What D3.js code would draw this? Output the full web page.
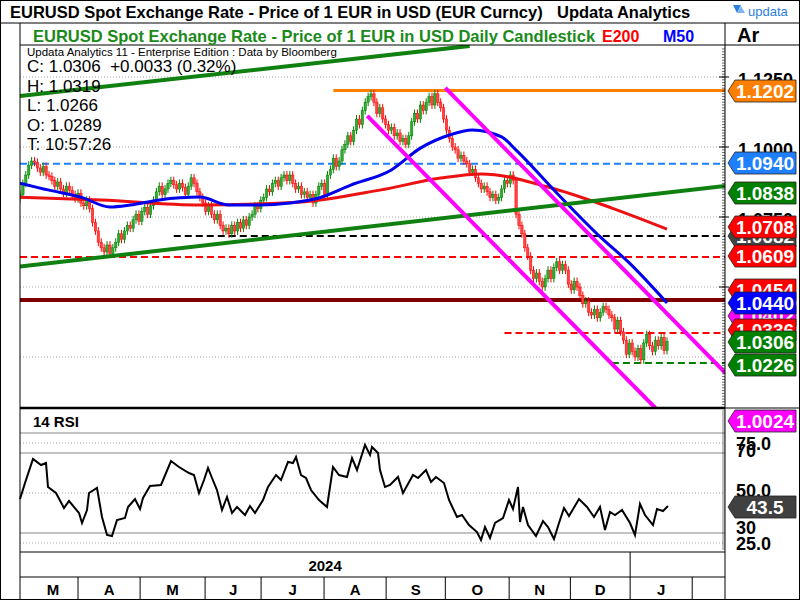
<!DOCTYPE html>
<html><head><meta charset="utf-8">
<script src="https://cdn.jsdelivr.net/npm/d3@7"></script>
<style>body{margin:0;background:#fff}svg{display:block;font-family:Arial,"Liberation Sans",sans-serif}</style>
</head><body><svg id="c" width="800" height="600"></svg>
<script>
// ---------- DATA ----------
const closes = [
1.0830,1.0870,1.0900,1.0935,1.0950,1.0945,1.0925,1.0910,1.0930,1.0900,
1.0895,1.0880,1.0860,1.0875,1.0850,1.0835,1.0860,1.0846,1.0830,1.0815,
1.0835,1.0800,1.0790,1.0810,1.0780,1.0730,1.0700,1.0660,1.0640,1.0625,
1.0650,1.0620,1.0640,1.0660,1.0690,1.0670,1.0700,1.0720,1.0710,1.0740,
1.0760,1.0735,1.0770,1.0785,1.0760,1.0790,1.0810,1.0840,1.0860,1.0830,
1.0850,1.0870,1.0880,1.0865,1.0850,1.0870,1.0855,1.0830,1.0860,1.0890,
1.0870,1.0840,1.0820,1.0800,1.0770,1.0790,1.0760,1.0740,1.0760,1.0720,
1.0700,1.0710,1.0690,1.0720,1.0700,1.0730,1.0710,1.0740,1.0720,1.0750,
1.0760,1.0790,1.0780,1.0810,1.0820,1.0850,1.0840,1.0870,1.0880,1.0860,
1.0890,1.0900,1.0880,1.0900,1.0870,1.0850,1.0860,1.0830,1.0840,1.0820,
1.0830,1.0800,1.0830,1.0860,1.0870,1.0830,1.0900,1.0920,1.0960,1.0930,
1.0950,1.0990,1.1010,1.1040,1.1020,1.1060,1.1100,1.1080,1.1130,1.1160,
1.1180,1.1190,1.1160,1.1120,1.1140,1.1100,1.1080,1.1060,1.1070,1.1040,
1.1050,1.1020,1.1030,1.1010,1.1040,1.1090,1.1120,1.1100,1.1150,1.1130,
1.1160,1.1180,1.1150,1.1190,1.1160,1.1140,1.1100,1.1060,1.1030,1.1000,
1.0990,1.0960,1.0970,1.0950,1.0940,1.0910,1.0920,1.0890,1.0870,1.0850,
1.0860,1.0840,1.0820,1.0830,1.0810,1.0820,1.0850,1.0880,1.0870,1.0900,
1.0880,1.0760,1.0720,1.0690,1.0640,1.0610,1.0560,1.0530,1.0550,1.0520,
1.0500,1.0530,1.0560,1.0530,1.0570,1.0590,1.0560,1.0580,1.0560,1.0510,
1.0490,1.0520,1.0500,1.0470,1.0440,1.0450,1.0410,1.0400,1.0420,1.0390,
1.0410,1.0430,1.0420,1.0400,1.0390,1.0350,1.0380,1.0340,1.0310,1.0260,
1.0300,1.0270,1.0250,1.0280,1.0240,1.0300,1.0330,1.0290,1.0270,1.0310,
1.0290,1.0320,1.0273,1.0306];
const firstOpen = 1.0815;
const ma50Idx = [0,10,21,31,38,48,62,72,83,93,103,114,128,138,148,156,166,171,185,200,210,223];
const ma50Val = [1.0871,1.0846,1.0821,1.0786,1.0793,1.0811,1.0821,1.0793,1.0793,1.0800,1.0818,1.0864,1.0918,1.0996,1.1043,1.1061,1.1036,1.0989,1.0836,1.0679,1.0586,1.0443];
const e200Idx = [0,28,62,97,124,145,159,182,204,223];
const e200Val = [1.0821,1.0811,1.0793,1.0804,1.0846,1.0889,1.0904,1.0857,1.0782,1.0707];
const rsiX = [20,25,33,41,46,48,56,64,69,79,82,87,89,97,102,107,112,117,125,128,135,140,143,150,161,171,179,189,194,199,204,208,212,217,222,227,232,237,245,250,255,263,268,276,281,288,293,296,301,306,311,319,327,333,339,347,352,357,365,370,372,378,380,385,390,398,403,413,418,426,431,436,444,449,457,462,469,477,481,485,490,495,503,509,513,518,520,523,528,536,543,548,554,559,564,569,579,587,594,600,605,610,615,622,630,635,640,645,653,657,663,668];
const rsiVal = [47,55,67,64,65,53,50,42.5,46,40,35,41.5,50,52.5,38,29,28.5,36.5,37.5,43,47,42,47.5,53.5,54,66,63,60,59,50,56.5,62.5,57.5,51.5,41.5,48,40,43,39,43.5,40,46.5,53,59,56.5,65.5,65,68,59,57.5,51.5,46.5,43,63,59,58,67.5,61.5,74,69,73,70,61.5,53,54,58,50,59,57.5,61.5,55.5,58,55,46.5,38,39,34,30.5,26.5,33,27.5,35,37.5,46.5,42,53,35.5,43,34,28.5,36,33,27,35,42.5,38.5,47,43,38,43,31.5,40.5,39,41.5,35,29,44.5,39,34,42,41,43.5];
const monthStarts = [20,41.4,63.8,83.1,104.8,126.2,146.6,168.6,189.7,210.3,231.7];
const monthLabels = ["M","A","M","J","J","A","S","O","N","D","J"];
const priceTicks = [1.125,1.100,1.075,1.050];
const priceGrid = [1.125,1.100,1.075,1.050,1.025];
const rsiSolid = [80,70,30], rsiDotted = [75,50,25];
const rsiTickLabels = [["75.0",75],["70",71.5],["50.0",51.5],["30",33],["25.0",25]];
const levels = [
 {v:1.1202,c:"#ff8000",d:null,s:108,w:3},
 {v:1.0940,c:"#1e7fff",d:"7,4",s:0,w:2},
 {v:1.0682,c:"#000",d:"7,4",s:53,w:2},
 {v:1.0607,c:"#ff0000",d:"7,4",s:0,w:2},
 {v:1.0454,c:"#800000",d:null,s:0,w:4},
 {v:1.0336,c:"#ff0000",d:"7,4",s:167,w:2},
 {v:1.0229,c:"#008000",d:"7,4",s:204,w:2}];
const trendLines = [
 {a:[0,1.1182],b:[155,1.1361],c:"#108010",w:4},
 {a:[0,1.0573],b:[243,1.0861],c:"#108010",w:4},
 {a:[146.6,1.1211],b:[243.1,1.0193],c:"#ff00ff",w:4},
 {a:[119.7,1.1111],b:[219,1.0068],c:"#ff00ff",w:4}];
const tags = [
 {t:"1.1202",c:"#ff8000",y:91},
 {t:"1.0940",c:"#1e7fff",y:163},
 {t:"1.0838",c:"#008000",y:193},
 {t:"1.0682",c:"#444",y:236},
 {t:"1.0708",c:"#ff0000",y:227},
 {t:"1.0609",c:"#ff0000",y:256},
 {t:"1.0454",c:"#ff0000",y:290},
 {t:"1.0402",c:"#ff00ff",y:316},
 {t:"1.0440",c:"#0000ff",y:303},
 {t:"1.0336",c:"#ff0000",y:330},
 {t:"1.0306",c:"#008000",y:342},
 {t:"1.0226",c:"#008000",y:365},
 {t:"1.0024",c:"#ff00ff",y:421},
 {t:"43.5",c:"#404040",y:507}];

// ---------- LAYOUT ----------
const svg = d3.select("#c");
const L=20,R=725,PT=45,PB=407,RT=409,RB=552;
const x = d3.scaleLinear().domain([0,243]).range([L,R]);
const y = d3.scaleLinear().domain([1.125,1.100]).range([77,147]);
const yr = d3.scaleLinear().domain([50,25]).range([493,543]);

svg.append("rect").attr("x",0.5).attr("y",0.5).attr("width",799).attr("height",599).attr("fill","#fff").attr("stroke","#000");
svg.append("defs").append("clipPath").attr("id","pc").append("rect").attr("x",L).attr("y",PT).attr("width",R-L).attr("height",PB-PT);

priceGrid.forEach(v=>svg.append("line").attr("x1",L).attr("x2",R).attr("y1",y(v)).attr("y2",y(v)).attr("stroke","#aaa").attr("stroke-dasharray","1,2"));
rsiSolid.forEach(v=>svg.append("line").attr("x1",L).attr("x2",R).attr("y1",yr(v)).attr("y2",yr(v)).attr("stroke","#888").attr("stroke-width",1.2));
rsiDotted.forEach(v=>svg.append("line").attr("x1",L).attr("x2",R).attr("y1",yr(v)).attr("y2",yr(v)).attr("stroke","#aaa").attr("stroke-dasharray","1,2"));

const gp = svg.append("g").attr("clip-path","url(#pc)");
levels.forEach(l=>gp.append("line").attr("x1",x(l.s)).attr("x2",R).attr("y1",y(l.v)).attr("y2",y(l.v)).attr("stroke",l.c).attr("stroke-width",l.w).attr("stroke-dasharray",l.d));
closes.forEach((c,i)=>{
  const o = i===0?firstOpen:closes[i-1];
  const up = c>=o, col = up?"#008000":"#ff0000";
  const hi = Math.max(o,c)+0.0014, lo=Math.min(o,c)-0.0014;
  gp.append("line").attr("x1",x(i)).attr("x2",x(i)).attr("y1",y(hi)).attr("y2",y(lo)).attr("stroke",col).attr("stroke-width",1);
  gp.append("rect").attr("x",x(i)-1.2).attr("width",2.4).attr("y",y(Math.max(o,c))).attr("height",Math.max(1,y(Math.min(o,c))-y(Math.max(o,c)))).attr("fill",up?"#33aa33":"#ff4444").attr("stroke",col).attr("stroke-width",0.5);
});
const ln = d3.line().curve(d3.curveMonotoneX);
gp.append("path").attr("d",ln(e200Idx.map((d,i)=>[x(d),y(e200Val[i])]))).attr("fill","none").attr("stroke","#ee1111").attr("stroke-width",3);
gp.append("path").attr("d",ln(ma50Idx.map((d,i)=>[x(d),y(ma50Val[i])]))).attr("fill","none").attr("stroke","#0000ee").attr("stroke-width",3);
trendLines.forEach(t=>gp.append("line").attr("x1",x(t.a[0])).attr("y1",y(t.a[1])).attr("x2",x(t.b[0])).attr("y2",y(t.b[1])).attr("stroke",t.c).attr("stroke-width",t.w));

svg.append("path").attr("d",d3.line()(rsiX.map((d,i)=>[d,yr(rsiVal[i])]))).attr("fill","none").attr("stroke","#000").attr("stroke-width",2);

svg.append("line").attr("x1",0).attr("x2",800).attr("y1",23).attr("y2",23).attr("stroke","#000");
svg.append("line").attr("x1",L).attr("x2",L).attr("y1",23).attr("y2",600).attr("stroke","#000");
svg.append("line").attr("x1",R).attr("x2",R).attr("y1",23).attr("y2",RB).attr("stroke","#000");
svg.append("line").attr("x1",L).attr("x2",800).attr("y1",45).attr("y2",45).attr("stroke","#000");
svg.append("line").attr("x1",L).attr("x2",R).attr("y1",408).attr("y2",408).attr("stroke","#000").attr("stroke-width",2.5);
svg.append("line").attr("x1",R).attr("x2",800).attr("y1",408).attr("y2",408).attr("stroke","#000").attr("stroke-width",1);
svg.append("line").attr("x1",L).attr("x2",R).attr("y1",RB).attr("y2",RB).attr("stroke","#000");
svg.append("line").attr("x1",L).attr("x2",R).attr("y1",577).attr("y2",577).attr("stroke","#000");
svg.append("line").attr("x1",x(210.3)).attr("x2",x(210.3)).attr("y1",RB).attr("y2",577).attr("stroke","#000");
d3.range(1.008,1.136,0.001).forEach(v=>svg.append("line").attr("x1",R-3).attr("x2",R).attr("y1",y(v)).attr("y2",y(v)).attr("stroke","#000").attr("stroke-width",0.6));
priceTicks.forEach(v=>svg.append("line").attr("x1",R-6).attr("x2",R+4).attr("y1",y(v)).attr("y2",y(v)).attr("stroke","#000"));
d3.range(22,92,1).forEach(v=>svg.append("line").attr("x1",R-3).attr("x2",R).attr("y1",yr(v)).attr("y2",yr(v)).attr("stroke","#000").attr("stroke-width",0.5));

const T=(t,xx,yy,o)=>{const e=svg.append("text").attr("x",xx).attr("y",yy).text(t);Object.entries(o||{}).forEach(([k,v])=>e.attr(k,v));return e;};
priceTicks.forEach(v=>T(d3.format(".4f")(v),738,y(v)+9,{"font-size":18,"font-weight":"bold"}));
rsiTickLabels.forEach(([t,v])=>T(t,736,yr(v)+7,{"font-size":18,"font-weight":"bold"}));

// month axis: boundaries are month starts Apr..Feb, labels sit before each boundary
monthStarts.forEach((m,i)=>{
  svg.append("line").attr("x1",x(m)).attr("x2",x(m)).attr("y1",577).attr("y2",600).attr("stroke","#000");
  const sx = i===0?L+8:x(monthStarts[i-1]);
  T(monthLabels[i],(sx+x(m))/2,595,{"font-size":15,"font-weight":"bold","text-anchor":"middle"});
});
svg.append("line").attr("x1",x(243)).attr("x2",x(243)).attr("y1",RB).attr("y2",600).attr("stroke","#000");
T("2024",(L+x(210.3))/2,571,{"font-size":15,"font-weight":"bold","text-anchor":"middle"});

tags.forEach(g=>{
  const x0=728,w=68,h=22,y0=g.y-h/2;
  svg.append("path").attr("d",`M${x0},${g.y} L${x0+7},${y0} L${x0+w},${y0} L${x0+w},${y0+h} L${x0+7},${y0+h} Z`).attr("fill",g.c).attr("stroke","#222").attr("stroke-width",0.8);
  T(g.t,x0+w/2+3,g.y+7,{"font-size":19,"font-weight":"bold",fill:"#fff","text-anchor":"middle"});
});

T("EURUSD Spot Exchange Rate - Price of 1 EUR in USD (EUR Curncy)",10,18,{"font-size":16.5,"font-weight":"bold"});
T("Updata Analytics",557,18,{"font-size":16.5,"font-weight":"bold"});
svg.append("path").attr("d","M733,5 L741,5 L737,13 Z").attr("fill","#2a7de1");
svg.append("path").attr("d","M737,13 L745,13 L741,6 Z").attr("fill","#7fb3f0");
T("updata",748,16,{"font-size":13,fill:"#2a7de1"});
T("EURUSD Spot Exchange Rate - Price of 1 EUR in USD Daily Candlestick",33,42,{"font-size":16.5,"font-weight":"bold",fill:"#1a8a1a"});
T("E200",602,42,{"font-size":16,"font-weight":"bold",fill:"#ff0000"});
T("M50",663,42,{"font-size":16,"font-weight":"bold",fill:"#0000ff"});
T("Ar",737,42,{"font-size":20,"font-weight":"bold"});
T("Updata Analytics 11 - Enterprise Edition : Data by Bloomberg",27,56,{"font-size":11.5});
["C: 1.0306  +0.0033 (0.32%)","H: 1.0319","L: 1.0266","O: 1.0289","T: 10:57:26"].forEach((s,i)=>T(s,27,72+i*19.5,{"font-size":17}).style("white-space","pre"));
T("14 RSI",33,427,{"font-size":15,"font-weight":"bold"});
</script></body></html>
